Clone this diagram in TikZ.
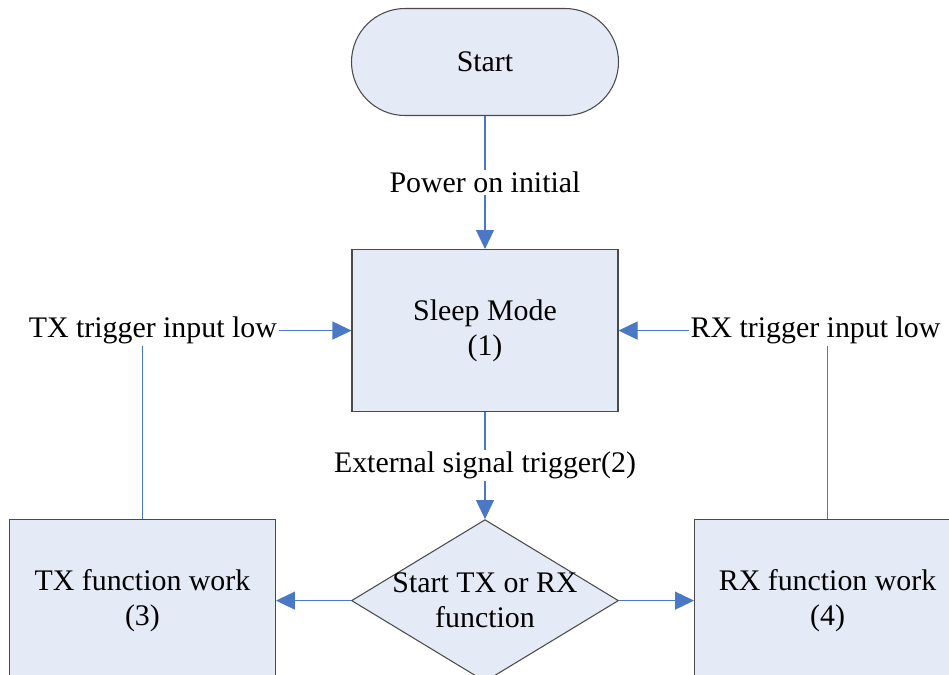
\documentclass[tikz,border=0pt]{standalone}
\usepackage{fontspec}
\setmainfont{Liberation Serif}
\usetikzlibrary{positioning,arrows.meta,shapes.geometric,calc}
\definecolor{boxfill}{HTML}{E4EBF7}
\definecolor{linkblue}{HTML}{4A78C6}
\definecolor{edgegray}{HTML}{4A4A4A}

\begin{document}
\begin{tikzpicture}[
  node distance=2.14cm and 1.5cm,
  every node/.style={font=\fontsize{17}{20}\selectfont},
  term/.style={draw=edgegray, fill=boxfill, rounded corners=1.07cm,
               minimum width=5.34cm, minimum height=2.14cm, line width=0.6pt},
  procbox/.style={draw=edgegray, fill=boxfill, minimum width=5.32cm,
                  minimum height=3.24cm, align=center, line width=0.6pt},
  decide/.style={diamond, draw=edgegray, fill=boxfill, aspect=1.65,
                 minimum width=5.34cm, minimum height=3.24cm,
                 inner sep=-12pt, align=center, line width=0.6pt},
  lbl/.style={inner sep=1pt},
  link/.style={draw=linkblue, line width=0.6pt},
  arr/.style={link, -{Triangle[length=0.38cm, width=0.36cm]}}]

\clip (0,0) rectangle (18.98,-13.5);

%% Main column
\node[term] (start) at (9.7,-1.24) {Start};
\node[procbox, below=2.66cm of start] (sleep) {Sleep Mode\\(1)};
\node[decide, below=of sleep] (choose) {Start TX or RX\\function};

%% Labels on the vertical links
\node[lbl] (power) at ($(start.south)!0.5!(sleep.north)$) {Power on initial};
\node[lbl] (extsig) at ($(sleep.south)!0.5!(choose.north)$) {External signal trigger(2)};

%% Side boxes
\node[procbox, left=of choose]  (txwork) {TX function work\\(3)};
\node[procbox, right=of choose] (rxwork) {RX function work\\(4)};

%% Trigger labels
\node[lbl, left=1.45cm of sleep]  (txlow) {TX trigger input low};
\node[lbl, right=1.4cm of sleep]  (rxlow) {RX trigger input low};

%% Links
\draw[link] (start) -- (power);
\draw[arr]  (power) -- (sleep);
\draw[link] (sleep) -- (extsig);
\draw[arr]  (extsig) -- (choose);
\draw[arr]  (choose) -- (txwork);
\draw[arr]  (choose) -- (rxwork);
\draw[arr]  (txlow) -- (sleep);
\draw[arr]  (rxlow) -- (sleep);
\draw[link] (txwork.north) -- (txwork.north |- txlow.south);
\draw[link] (rxwork.north) -- (rxwork.north |- rxlow.south);
\end{tikzpicture}
\end{document}
